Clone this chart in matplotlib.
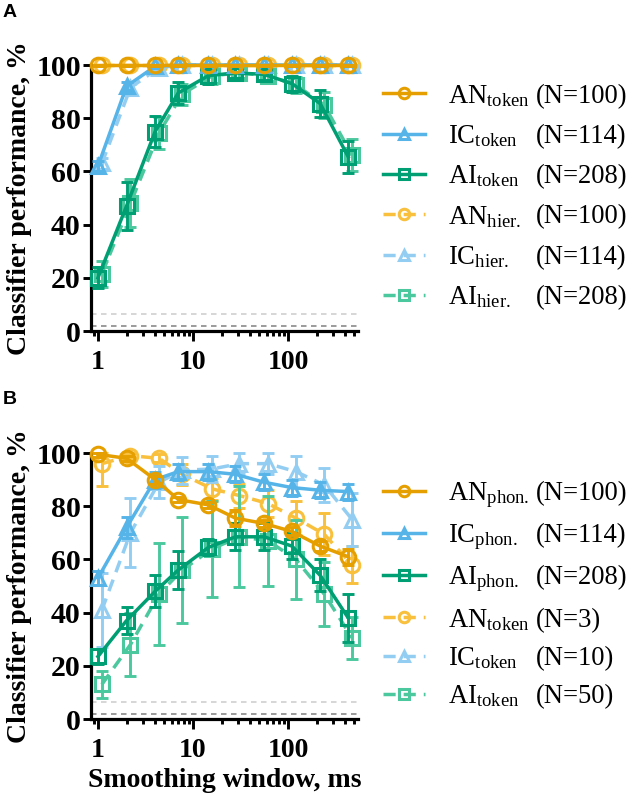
import numpy as np
import matplotlib
matplotlib.use('Agg')
import matplotlib.pyplot as plt
from matplotlib.ticker import FixedLocator, LogLocator, NullFormatter
from matplotlib.font_manager import FontProperties

plt.rcParams['font.family'] = ['Liberation Serif', 'DejaVu Serif']
plt.rcParams['mathtext.fontset'] = 'custom'
plt.rcParams['mathtext.rm'] = 'Liberation Serif'
plt.rcParams['mathtext.it'] = 'Liberation Serif:italic'
plt.rcParams['mathtext.bf'] = 'Liberation Serif:bold'

# ---------------- data ----------------
windows = [1, 2, 4, 7, 14.5, 28, 56, 110, 218, 430]
x_ticks = [1, 10, 100]
x_ticklabels = ['1', '10', '100']
y_ticks = [0, 20, 40, 60, 80, 100]
chance_levels = [2, 6.25]

# Panel A (token vs hierarchical)
a_an_token = [100, 100, 100, 100, 100, 100, 100, 100, 100, 100]
a_an_token_err = [0.5, 0.5, 0.5, 0.5, 0.5, 0.5, 0.5, 0.5, 0.5, 0.5]
a_ic_token = [62, 92, 99.5, 100, 100, 100, 100, 100, 100, 100]
a_ic_token_err = [2, 1.5, 0.5, 0.5, 0.5, 0.5, 0.5, 0.5, 0.5, 0.5]
a_ai_token = [20, 47, 75, 89.5, 96, 97, 96.5, 93, 85.5, 65.5]
a_ai_token_err = [4, 9, 6, 4, 3, 2, 2, 3, 5, 6]
a_an_hier = [100, 100, 100, 100, 100, 100, 100, 100, 100, 100]
a_an_hier_err = [0.5, 0.5, 0.5, 0.5, 0.5, 0.5, 0.5, 0.5, 0.5, 0.5]
a_ic_hier = [63, 91.5, 99, 100, 100, 100, 100, 100, 100, 100]
a_ic_hier_err = [2, 1.5, 1, 0.5, 0.5, 0.5, 0.5, 0.5, 0.5, 0.5]
a_ai_hier = [21.5, 48, 74.5, 89, 96, 97, 96, 92.5, 85, 66]
a_ai_hier_err = [5, 9, 6, 4, 3, 2, 2, 3, 5, 6]
a_names = ['AN$_{\\mathrm{token}}$', 'IC$_{\\mathrm{token}}$', 'AI$_{\\mathrm{token}}$',
           'AN$_{\\mathrm{hier.}}$', 'IC$_{\\mathrm{hier.}}$', 'AI$_{\\mathrm{hier.}}$']
a_ns = ['(N=100)', '(N=114)', '(N=208)', '(N=100)', '(N=114)', '(N=208)']

# Panel B (phoneme vs token)
b_an_phon = [99.5, 98, 90, 82.5, 80.5, 75.5, 73.5, 70.5, 65, 61]
b_an_phon_err = [1, 1, 1.5, 1, 1, 3, 1.5, 1.5, 2, 3]
b_ic_phon = [53, 72, 90, 93, 93, 92, 89, 87, 86, 85.5]
b_ic_phon_err = [2.5, 4, 3, 3, 3, 3, 3, 3, 3, 3]
b_ai_phon = [23.5, 37, 48, 56, 64.5, 68.5, 68.5, 65, 54, 38]
b_ai_phon_err = [3, 5, 6, 7, 3, 5, 5, 5, 6, 9]
b_an_token = [96, 99, 98, 92, 86.5, 84, 81, 75.5, 69.5, 58]
b_an_token_err = [8.5, 1, 1.5, 4, 4, 4.5, 5, 6.5, 8, 7]
b_ic_token = [41, 70, 89, 93.5, 94, 96, 96, 93, 88, 75]
b_ic_token_err = [14, 13, 6, 5, 5, 4, 4, 6, 6.5, 10]
b_ai_token = [13, 28, 47, 56, 64, 68.5, 67, 60, 47, 30.5]
b_ai_token_err = [5, 12, 19, 20, 18, 19, 17, 15, 12, 8]
b_names = ['AN$_{\\mathrm{phon.}}$', 'IC$_{\\mathrm{phon.}}$', 'AI$_{\\mathrm{phon.}}$',
           'AN$_{\\mathrm{token}}$', 'IC$_{\\mathrm{token}}$', 'AI$_{\\mathrm{token}}$']
b_ns = ['(N=100)', '(N=114)', '(N=208)', '(N=3)', '(N=10)', '(N=50)']

# ---------------- style ----------------
C_AN, C_AN_L = '#E69F00', '#F8C03C'
C_IC, C_IC_L = '#56B4E9', '#93CEF2'
C_AI, C_AI_L = '#009E73', '#4CC89E'
DASH = (0, (3.5, 2.3))

W, H = 633, 797
fig = plt.figure(figsize=(W / 100, H / 100), dpi=100)


def px_ax(left, top, right, bottom):
    return fig.add_axes([left / W, 1 - bottom / H, (right - left) / W, (bottom - top) / H])


def series(ax, y, e, color, marker, dashed, z):
    xs = np.asarray(windows, float) * (1.1 if dashed else 1.0)
    y = np.asarray(y, float)
    e = np.asarray(e, float)
    up = np.minimum(e, 100 - y)
    eb = ax.errorbar(xs, y, yerr=[e, up], fmt='none', ecolor=color,
                     elinewidth=2.1, capsize=4.3, capthick=2.1, zorder=z)
    for art in eb.get_children():
        art.set_clip_on(False)
    ln, = ax.plot(xs, y, color=color, lw=2.5, ls=DASH if dashed else '-',
                  marker=marker, ms=10.5, mfc='none', mec=color, mew=2.2,
                  zorder=z + 0.1, clip_on=False)
    return ln


def style_axes(ax):
    ax.set_xscale('log')
    ax.set_xlim(0.845, 545)
    ax.set_ylim(0, 100)
    for s in ('top', 'right'):
        ax.spines[s].set_visible(False)
    for s in ('left', 'bottom'):
        ax.spines[s].set_linewidth(2.3)
    ax.xaxis.set_major_locator(FixedLocator(x_ticks))
    ax.xaxis.set_minor_locator(LogLocator(base=10, subs=np.arange(2, 10)))
    ax.xaxis.set_minor_formatter(NullFormatter())
    ax.set_xticklabels(x_ticklabels)
    ax.set_yticks(y_ticks)
    ax.tick_params(axis='x', which='major', length=7, width=2.1, pad=7)
    ax.tick_params(axis='x', which='minor', length=3.8, width=2.1)
    ax.tick_params(axis='y', which='major', length=5.8, width=2.1, pad=1.5)
    for lab in ax.get_xticklabels():
        lab.set_fontsize(20)
        lab.set_fontweight('bold')
    for lab in ax.get_yticklabels():
        lab.set_fontsize(21.5)
        lab.set_fontweight('bold')
    ax.set_ylabel('Classifier performance, %', fontsize=20, fontweight='bold', labelpad=3)
    ax.axhline(chance_levels[0], color='#8a8a8a', lw=1.2, ls=(0, (3.3, 2.7)), zorder=1)
    ax.axhline(chance_levels[1], color='#cfcfcf', lw=1.2, ls=(0, (3.3, 2.7)), zorder=1)


FS = 19.2
FS_PX = FS * 100 / 72


def add_legend(handles, names, ns, yc_px, pitch_px):
    ls = 0.3
    for _ in range(3):
        leg = fig.legend(handles, names, loc='center left',
                         bbox_to_anchor=(383 / W, 1 - yc_px / H), bbox_transform=fig.transFigure,
                         frameon=False, borderpad=0, borderaxespad=0, handlelength=1.57,
                         handletextpad=0.86, labelspacing=ls, numpoints=1, markerscale=0.72,
                         prop=FontProperties(family='Liberation Serif', size=FS))
        fig.canvas.draw()
        ys = [t.get_transform().transform(t.get_position())[1] for t in leg.get_texts()]
        pitch = -np.mean(np.diff(ys))
        if abs(pitch - pitch_px) < 0.3:
            break
        leg.remove()
        ls += (pitch_px - pitch) / FS_PX
    inv = fig.transFigure.inverted()
    for t, n in zip(leg.get_texts(), ns):
        xd, yd = t.get_transform().transform(t.get_position())
        fy = inv.transform((0, yd))[1]
        fig.text(536 / W, fy, n, fontsize=FS, family='Liberation Serif', va='baseline', ha='left')


# ---------------- panel A ----------------
axA = px_ax(91, 65, 358, 331)
style_axes(axA)
hA4 = series(axA, a_an_hier, a_an_hier_err, C_AN_L, 'o', True, 2)
hA5 = series(axA, a_ic_hier, a_ic_hier_err, C_IC_L, '^', True, 2.2)
hA6 = series(axA, a_ai_hier, a_ai_hier_err, C_AI_L, 's', True, 2.4)
hA3 = series(axA, a_ai_token, a_ai_token_err, C_AI, 's', False, 3)
hA2 = series(axA, a_ic_token, a_ic_token_err, C_IC, '^', False, 3.2)
hA1 = series(axA, a_an_token, a_an_token_err, C_AN, 'o', False, 3.4)

# ---------------- panel B ----------------
axB = px_ax(91, 453, 358, 719)
style_axes(axB)
hB4 = series(axB, b_an_token, b_an_token_err, C_AN_L, 'o', True, 2)
hB5 = series(axB, b_ic_token, b_ic_token_err, C_IC_L, '^', True, 2.2)
hB6 = series(axB, b_ai_token, b_ai_token_err, C_AI_L, 's', True, 2.4)
hB3 = series(axB, b_ai_phon, b_ai_phon_err, C_AI, 's', False, 3)
hB2 = series(axB, b_ic_phon, b_ic_phon_err, C_IC, '^', False, 3.2)
hB1 = series(axB, b_an_phon, b_an_phon_err, C_AN, 'o', False, 3.4)
axB.set_xlabel('Smoothing window, ms', fontsize=20, fontweight='bold', labelpad=3)

fig.text(3 / W, 1 - 17 / H, 'A', fontsize=14, fontweight='bold', family='Liberation Sans', va='baseline')
fig.text(3 / W, 1 - 404 / H, 'B', fontsize=14, fontweight='bold', family='Liberation Sans', va='baseline')

add_legend([hA1, hA2, hA3, hA4, hA5, hA6], a_names, a_ns, 196.5, 40.3)
add_legend([hB1, hB2, hB3, hB4, hB5, hB6], b_names, b_ns, 595, 40.6)

fig.savefig('out.png', dpi=100)
